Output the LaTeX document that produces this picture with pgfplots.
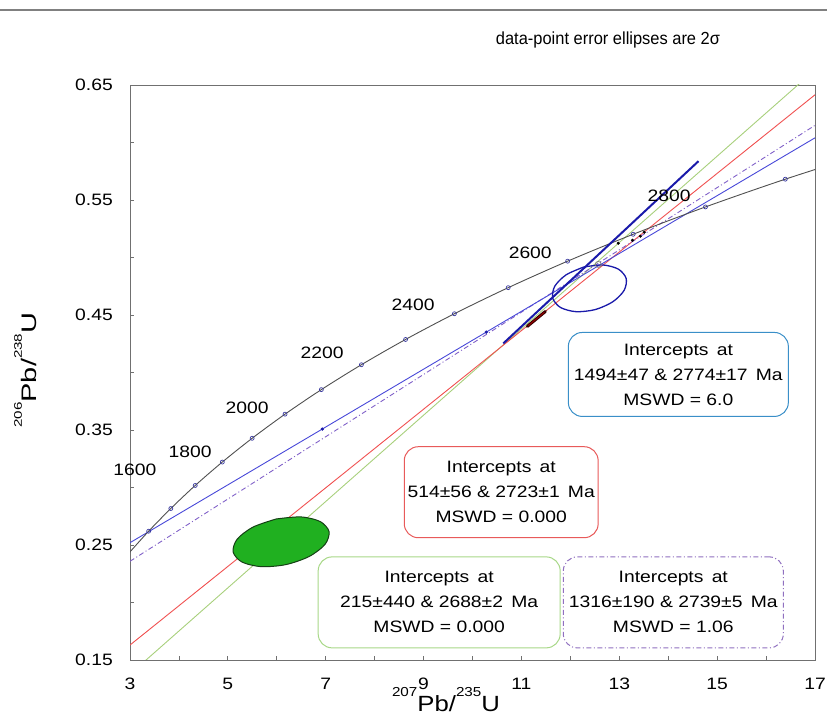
\documentclass[border=0pt]{standalone}
\usepackage{pgfplots}
\pgfplotsset{compat=1.18}
\usepackage{fontspec}
\setmainfont[FakeStretch=1.17]{Liberation Sans}
\newfontfamily\titlefont[FakeStretch=0.94]{Liberation Sans}
\newfontfamily\ylabfont[FakeStretch=1.38]{Liberation Sans}
\definecolor{concord}{HTML}{505050}
\definecolor{cmark}{HTML}{3A3AA0}
\definecolor{lblue}{HTML}{4848D8}
\definecolor{lpurple}{HTML}{8060C8}
\definecolor{lred}{HTML}{F05050}
\definecolor{lgreen}{HTML}{A8D07C}
\definecolor{navy}{HTML}{1A1AAA}
\definecolor{efill}{HTML}{20B020}
\definecolor{eline}{HTML}{154015}
\definecolor{boxblue}{HTML}{3A8FC8}
\definecolor{boxred}{HTML}{E85A5A}
\definecolor{boxgreen}{HTML}{A8D888}
\definecolor{boxpurple}{HTML}{9070C0}
\definecolor{axgray}{HTML}{707070}
\begin{document}
\begin{tikzpicture}
\useasboundingbox (0,0) rectangle (827pt,717pt);
\draw[color=gray, line width=1.2pt] (0,707pt) -- (827pt,707pt);
\node[anchor=base, font=\titlefont\fontsize{17.5}{20}\selectfont] at (608pt,672pt) {data-point error ellipses are 2σ};
\begin{axis}[
  at={(130pt,57pt)}, anchor=south west,
  scale only axis, width=685pt, height=575pt,
  xmin=3, xmax=17, ymin=0.15, ymax=0.65,
  xtick={3,5,7,9,11,13,15,17}, xticklabels={3,5,7,9,11,13,15,17},
  minor xtick={4,6,8,10,12,14,16},
  ytick={0.15,0.25,0.35,0.45,0.55,0.65}, yticklabels={0.15,0.25,0.35,0.45,0.55,0.65},
  minor ytick={0.2,0.3,0.4,0.5,0.6},
  xtick pos=bottom, ytick pos=left,
  tick align=inside,
  major tick length=4pt, minor tick length=4pt,
  every tick/.style={axgray, line width=0.8pt},
  every minor tick/.style={axgray, line width=0.8pt},
  axis line style={axgray, line width=0.9pt},
  tick label style={font=\fontsize{16.5}{18}\selectfont, inner sep=0pt},
  yticklabel style={xshift=-17pt},
  xticklabel style={yshift=-18pt},
  clip mode=individual,
]
% discordia lines
\addplot[color=lgreen, line width=0.9pt] coordinates {(3,0.13767) (17,0.66317)};
\addplot[color=lred, line width=0.9pt] coordinates {(3,0.16301) (17,0.64148)};
\addplot[color=lpurple, line width=0.9pt, dash pattern=on 5pt off 2.5pt on 1pt off 2.5pt] coordinates {(3,0.23583) (17,0.61493)};
\addplot[color=lblue, line width=0.9pt] coordinates {(3,0.2520) (17,0.60406)};
% concordia
\addplot[color=concord, line width=0.9pt, smooth] coordinates {
(2.9701,0.24257) (3.3810,0.26199) (3.83442,0.28173) (4.33286,0.30177) (4.88690,0.32212)
(5.49618,0.34279) (6.16853,0.36378) (6.91045,0.38510) (7.72916,0.40675) (8.63260,0.42874)
(9.62958,0.45108) (10.72974,0.47376) (11.94372,0.49680) (13.28336,0.52020) (14.76165,0.54397)
(16.39294,0.56810) (18.19310,0.59262)};
\addplot[only marks, mark=o, mark size=2pt, mark options={draw=cmark, line width=0.7pt}] coordinates {
(3.3810,0.26199) (3.83442,0.28173) (4.33286,0.30177) (4.88690,0.32212)
(5.49618,0.34279) (6.16853,0.36378) (6.91045,0.38510) (7.72916,0.40675) (8.63260,0.42874)
(9.62958,0.45108) (10.72974,0.47376) (11.94372,0.49680) (13.28336,0.52020) (14.76165,0.54397)
(16.39294,0.56810)};
% blue line data dots
\addplot[only marks, mark=*, mark size=1.4pt, color=navy] coordinates {(6.93,0.3508) (10.28,0.4351)};
% green error ellipse
\addplot[fill=efill, draw=eline, line width=1pt, smooth] coordinates {
(5.9889,0.27265) (5.5121,0.26555) (5.1896,0.25504) (5.1078,0.24392) (5.2886,0.23519)
(5.6837,0.23117) (6.1871,0.23295) (6.6639,0.24005) (6.9864,0.25056) (7.0682,0.26168)
(6.8874,0.27041) (6.4923,0.27443) (5.9889,0.27265)};
% thick navy line
\addplot[color=navy, line width=2pt] coordinates {(10.63,0.4253) (14.62,0.5838)};
% blue ellipse
\addplot[draw=navy, line width=1.3pt, smooth] coordinates {
(12.2736,0.49171) (11.9139,0.48494) (11.6818,0.47504) (11.6395,0.46463) (11.7982,0.45653)
(12.1156,0.45289) (12.5064,0.45469) (12.8661,0.46146) (13.0982,0.47136) (13.1405,0.48177)
(12.9818,0.48987) (12.6644,0.49351) (12.2736,0.49171)};
% small data ellipses
\addplot[color=black!80!red, line width=3pt, line cap=round] coordinates {(11.12,0.4401) (11.49,0.4531)};
\addplot[color=red!60!black, line width=1pt] coordinates {(11.14,0.4408) (11.47,0.4524)};
\addplot[only marks, mark=*, mark size=1.3pt, color=black] coordinates {(12.98,0.5124) (13.27,0.5150) (13.43,0.5185) (13.51,0.5220)};
\addplot[only marks, mark=o, mark size=3pt, mark options={draw=gray, line width=0.8pt}] coordinates {(12.57,0.4940)};
% age labels
\node[font=\fontsize{16.5}{18}\selectfont] at (axis cs:3.10,0.3155) {1600};
\node[font=\fontsize{16.5}{18}\selectfont] at (axis cs:4.227,0.3312) {1800};
\node[font=\fontsize{16.5}{18}\selectfont] at (axis cs:5.393,0.3695) {2000};
\node[font=\fontsize{16.5}{18}\selectfont] at (axis cs:6.926,0.4174) {2200};
\node[font=\fontsize{16.5}{18}\selectfont] at (axis cs:8.787,0.4592) {2400};
\node[font=\fontsize{16.5}{18}\selectfont] at (axis cs:11.18,0.5037) {2600};
\node[font=\fontsize{16.5}{18}\selectfont] at (axis cs:14.02,0.5533) {2800};
% boxes
\node[draw=boxblue, rounded corners=14pt, line width=1pt, fill=white, minimum width=220pt, minimum height=84pt, align=center, font=\fontsize{16.5}{25}\selectfont] at (axis cs:14.207,0.3983) {Intercepts\enspace at\\1494±47 \& 2774±17\enspace Ma\\MSWD = 6.0};
\node[draw=boxred, rounded corners=14pt, line width=1pt, fill=white, minimum width=192pt, minimum height=91pt, align=center, font=\fontsize{16.5}{25}\selectfont] at (axis cs:10.587,0.2959) {Intercepts\enspace at\\514±56 \& 2723±1\enspace Ma\\MSWD = 0.000};
\node[draw=boxgreen, rounded corners=14pt, line width=1pt, fill=white, minimum width=242pt, minimum height=91pt, align=center, font=\fontsize{16.5}{25}\selectfont] at (axis cs:9.319,0.2001) {Intercepts\enspace at\\215±440 \& 2688±2\enspace Ma\\MSWD = 0.000};
\node[draw=boxpurple, dash pattern=on 5pt off 2.5pt on 1pt off 2.5pt, rounded corners=14pt, line width=1pt, fill=white, minimum width=220pt, minimum height=91pt, align=center, font=\fontsize{16.5}{25}\selectfont] at (axis cs:14.104,0.2001) {Intercepts\enspace at\\1316±190 \& 2739±5\enspace Ma\\MSWD = 1.06};
% axis labels
\node[anchor=base, font=\fontsize{22}{22}\selectfont] at ([yshift=-52pt]rel axis cs:0.4613,0) {\raisebox{15.5pt}{\fontsize{13}{14}\selectfont 207}Pb/\raisebox{15.5pt}{\fontsize{13}{14}\selectfont 235}U};
\node[anchor=base, rotate=90, font=\ylabfont\fontsize{21}{21}\selectfont] at ([xshift=-93pt]rel axis cs:0,0.504) {\raisebox{15pt}{\fontsize{11}{11}\selectfont 206}Pb/\raisebox{15pt}{\fontsize{11}{11}\selectfont 238}U};
\end{axis}
\end{tikzpicture}
\end{document}
